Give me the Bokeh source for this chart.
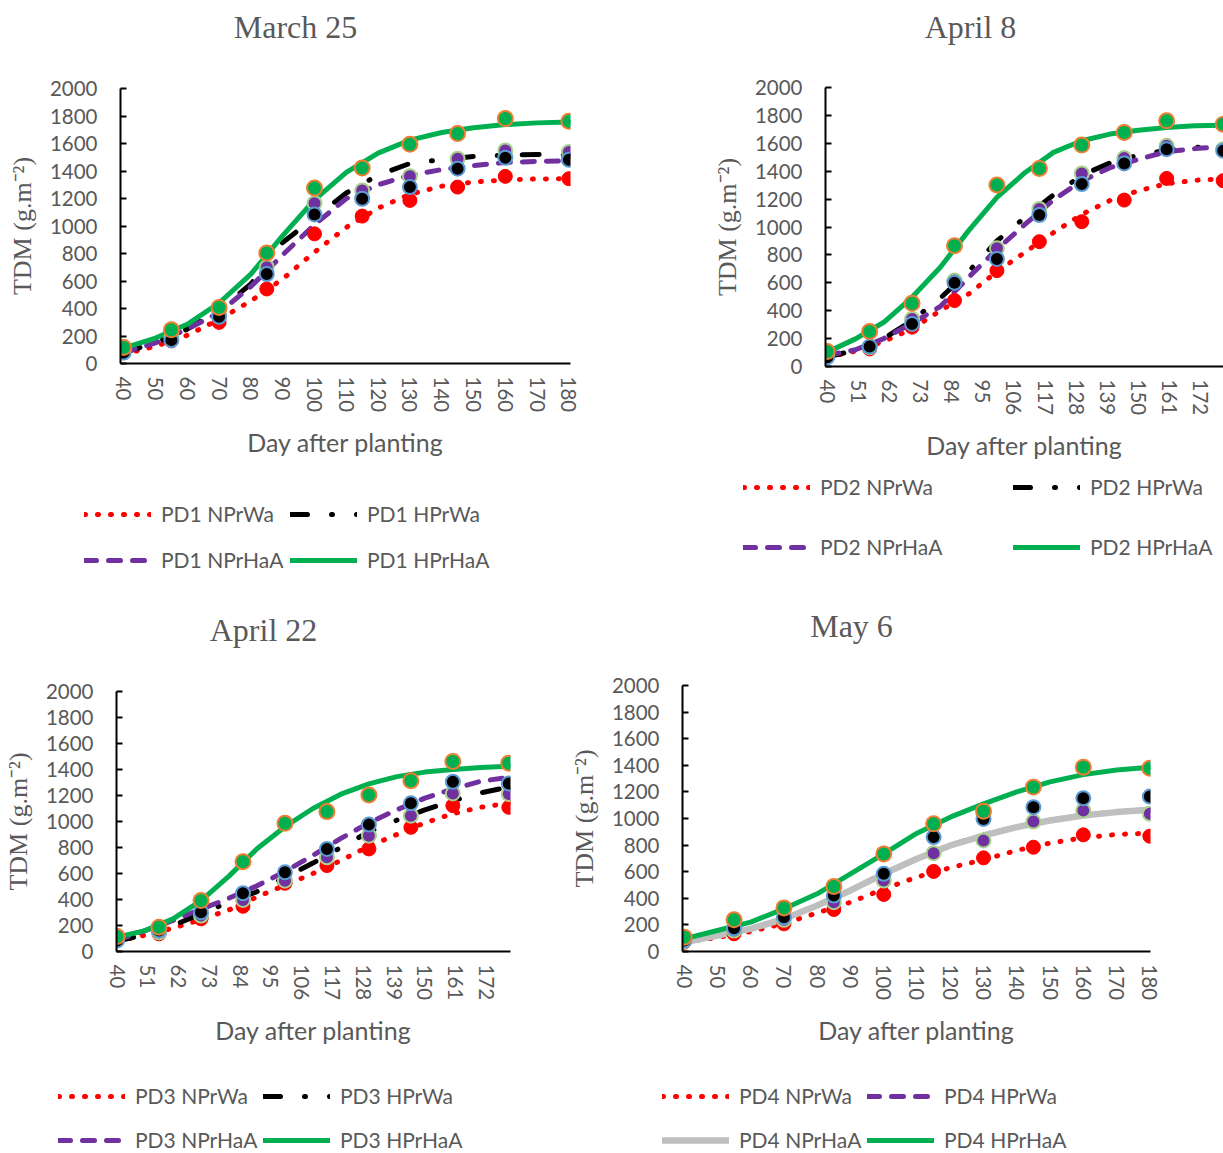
from bokeh.plotting import figure
from bokeh.models import Range1d, FixedTicker, Legend, LegendItem, Label
from bokeh.layouts import row, column
from bokeh.embed import file_html
from bokeh.resources import INLINE

# ---------------- data ----------------
days = [40, 55, 70, 85, 100, 115, 130, 145, 160, 180]
fit_days = [40, 50, 60, 70, 80, 90, 100, 110, 120, 130, 140, 150, 160, 170, 180]
y_ticks = [0, 200, 400, 600, 800, 1000, 1200, 1400, 1600, 1800, 2000]
x_ticks_10 = [40, 50, 60, 70, 80, 90, 100, 110, 120, 130, 140, 150, 160, 170, 180]
x_ticks_11 = [40, 51, 62, 73, 84, 95, 106, 117, 128, 139, 150, 161, 172]
titles = ["March 25", "April 8", "April 22", "May 6"]

# PD1 (March 25)
pd1_obs_nprwa = [80, 165, 299, 542, 943, 1072, 1186, 1283, 1361, 1344]
pd1_obs_hprwa = [80, 170, 340, 651, 1084, 1198, 1283, 1417, 1497, 1482]
pd1_obs_nprhaa = [92, 190, 372, 700, 1166, 1259, 1361, 1490, 1550, 1538]
pd1_obs_hprhaa = [117, 245, 408, 804, 1276, 1422, 1594, 1672, 1781, 1762]
pd1_fit_nprwa = [68, 125, 205, 320, 455, 615, 810, 990, 1130, 1230, 1290, 1320, 1335, 1342, 1344]
pd1_fit_hprwa = [80, 150, 250, 390, 578, 880, 1060, 1240, 1370, 1455, 1483, 1505, 1515, 1520, 1521]
pd1_fit_nprhaa = [80, 150, 250, 370, 560, 790, 1010, 1200, 1300, 1370, 1410, 1440, 1462, 1470, 1473]
pd1_fit_hprhaa = [112, 185, 285, 440, 650, 930, 1190, 1390, 1530, 1625, 1680, 1715, 1738, 1750, 1757]

# PD2 (April 8)
pd2_obs_nprwa = [67, 126, 282, 473, 687, 895, 1038, 1193, 1348, 1332]
pd2_obs_hprwa = [67, 143, 305, 601, 771, 1086, 1308, 1456, 1558, 1547]
pd2_obs_nprhaa = [79, 138, 341, 616, 847, 1129, 1384, 1494, 1582, 1558]
pd2_obs_hprhaa = [107, 251, 453, 866, 1301, 1420, 1587, 1678, 1761, 1737]
pd2_fit_nprwa = [65, 110, 180, 270, 400, 520, 680, 820, 960, 1090, 1190, 1260, 1310, 1335, 1345]
pd2_fit_hprwa = [70, 115, 200, 330, 490, 680, 900, 1070, 1230, 1370, 1460, 1515, 1550, 1570, 1580]
pd2_fit_nprhaa = [80, 120, 200, 310, 430, 640, 840, 1020, 1195, 1330, 1425, 1485, 1540, 1562, 1575]
pd2_fit_hprhaa = [103, 198, 317, 496, 711, 974, 1212, 1391, 1535, 1618, 1666, 1694, 1714, 1725, 1730]

# PD3 (April 22)
pd3_obs_nprwa = [97, 136, 251, 348, 525, 661, 789, 955, 1122, 1109]
pd3_obs_hprwa = [85, 161, 302, 448, 609, 789, 976, 1140, 1306, 1293]
pd3_obs_nprhaa = [97, 148, 277, 397, 545, 725, 891, 1045, 1216, 1211]
pd3_obs_hprhaa = [115, 187, 392, 691, 986, 1076, 1204, 1314, 1462, 1449]
pd3_fit_nprwa = [80, 125, 180, 245, 320, 420, 510, 600, 700, 810, 900, 990, 1060, 1110, 1140]
pd3_fit_hprwa = [80, 130, 200, 290, 380, 460, 570, 680, 800, 920, 1010, 1090, 1160, 1220, 1265]
pd3_fit_nprhaa = [85, 160, 240, 325, 410, 505, 615, 740, 870, 990, 1090, 1180, 1250, 1310, 1340]
pd3_fit_hprhaa = [110, 161, 251, 392, 580, 790, 960, 1100, 1210, 1290, 1345, 1380, 1400, 1415, 1425]

# PD4 (May 6)
pd4_obs_nprwa = [70, 133, 208, 316, 429, 602, 704, 784, 877, 867]
pd4_obs_hprwa = [83, 175, 258, 421, 584, 860, 997, 1085, 1153, 1165]
pd4_obs_nprhaa = [78, 158, 238, 371, 534, 739, 835, 977, 1060, 1035]
pd4_obs_hprhaa = [108, 238, 328, 489, 734, 960, 1055, 1236, 1386, 1378]
pd4_fit_nprwa = [70, 105, 150, 210, 290, 370, 470, 560, 630, 690, 760, 815, 855, 880, 890]
pd4_fit_hprwa = [72, 122, 172, 247, 348, 461, 586, 699, 799, 874, 937, 987, 1025, 1050, 1067]
pd4_fit_nprhaa = [70, 120, 170, 245, 346, 459, 584, 697, 797, 872, 935, 985, 1023, 1048, 1065]
pd4_fit_hprhaa = [95, 158, 221, 321, 434, 584, 734, 890, 1010, 1110, 1200, 1275, 1330, 1365, 1385]

# ---------------- styles ----------------
TXT = "#595959"
SANS = "Lato"
SERIF = "Liberation Serif"

line_styles = {
    "red": dict(line_color="#FF0000", line_width=5, line_dash="1 12", line_cap="round"),
    "black": dict(line_color="#000000", line_width=5, line_dash="17 24 1 24", line_cap="round"),
    "purple": dict(line_color="#7030A0", line_width=5, line_dash="12 12", line_cap="round"),
    "green": dict(line_color="#00B050", line_width=5, line_cap="round"),
    "gray": dict(line_color="#BFBFBF", line_width=6.5, line_cap="round"),
}
marker_styles = {
    "red": dict(fill_color="#FF0000", line_color="#FF0000", line_width=1, size=14),
    "purple": dict(fill_color="#7030A0", line_color="#A9D18E", line_width=2, size=14),
    "black": dict(fill_color="#000000", line_color="#5B9BD5", line_width=2, size=14),
    "green": dict(fill_color="#00B050", line_color="#ED7D31", line_width=2, size=15),
}


def no_align(f):
    if "frame_align" in f.properties():
        f.frame_align = False
    return f


def blank_fig(w, h):
    # x range far from the data so that legend-carrier lines stay off-canvas
    f = figure(width=w, height=h, x_range=Range1d(0, 1), y_range=Range1d(0, 1),
               x_axis_location=None, y_axis_location=None, min_border=0,
               output_backend="svg", toolbar_location=None)
    f.outline_line_color = None
    f.grid.visible = False
    return no_align(f)


def make_chart(spec):
    p = figure(width=spec["w"], height=spec["h"],
               x_range=Range1d(*spec["xr"]), y_range=Range1d(0, 2000),
               output_backend="svg", toolbar_location=None,
               min_border_left=spec["b"][0], min_border_right=spec["b"][1],
               min_border_top=spec["b"][2], min_border_bottom=spec["b"][3])
    no_align(p)
    p.outline_line_color = None
    p.grid.visible = False

    p.xaxis.ticker = FixedTicker(ticks=spec["xt"])
    p.xaxis.major_label_orientation = "vertical"
    p.xaxis.major_label_standoff = 13
    p.xaxis.major_tick_in = 0
    p.xaxis.major_tick_out = 0
    p.xaxis.minor_tick_line_color = None
    p.xaxis.axis_label = "Day after planting"
    p.xaxis.axis_label_standoff = 12
    p.xaxis.axis_label_text_font = SANS
    p.xaxis.axis_label_text_font_size = "25px"
    p.xaxis.axis_label_text_font_style = "normal"
    p.xaxis.axis_label_text_color = TXT

    p.yaxis.ticker = FixedTicker(ticks=y_ticks)
    p.yaxis.major_label_standoff = 23
    p.yaxis.major_tick_in = 6
    p.yaxis.major_tick_out = 0
    p.yaxis.major_tick_line_width = 2
    p.yaxis.minor_tick_line_color = None
    p.yaxis.axis_label = "TDM (g.m\u207b\u00b2)"
    p.yaxis.axis_label_standoff = 10
    p.yaxis.axis_label_text_font = SERIF
    p.yaxis.axis_label_text_font_size = "26px"
    p.yaxis.axis_label_text_font_style = "normal"
    p.yaxis.axis_label_text_color = TXT

    for ax in (p.xaxis, p.yaxis):
        ax.axis_line_color = "black"
        ax.axis_line_width = 2
        ax.major_label_text_font = SANS
        ax.major_label_text_font_size = "20.5px"
        ax.major_label_text_color = TXT

    for key, vals in spec["fits"]:
        p.line(fit_days, vals, **line_styles[key])
    for key, vals in spec["obs"]:
        p.scatter(days, vals, marker="circle", **marker_styles[key])
    return p


def make_header(spec):
    f = blank_fig(spec["w"], spec["hh"])
    f.add_layout(Label(x=spec["t_xy"][0], y=spec["t_xy"][1], x_units="screen",
                       y_units="screen", text=spec["title"], text_align="center",
                       text_baseline="alphabetic", text_font=SERIF,
                       text_font_size="32px", text_color=TXT))
    return f


def make_legend(spec):
    f = blank_fig(spec["w"], spec["lh"])
    fits = dict(spec["fits"])
    for vx, names in spec["leg_cols"]:
        items = []
        for key, lab in names:
            # same fitted series, outside this strip's range: only its legend swatch shows
            r = f.line(fit_days, fits[key], **line_styles[key])
            items.append(LegendItem(label=lab, renderers=[r]))
        f.add_layout(Legend(items=items, location=(vx, spec["leg_vy"]),
                            orientation="vertical", spacing=spec["leg_sp"],
                            padding=0, margin=0, glyph_width=67, glyph_height=20,
                            label_height=20, label_standoff=10,
                            label_text_font=SANS, label_text_font_size="21px",
                            label_text_color=TXT, border_line_color=None,
                            background_fill_alpha=0))
    return f


panels = [
    dict(title=titles[0], w=610, hh=60, h=410, lh=120, t_xy=(295, 33.7),
         xr=(39.0, 180.5), xt=x_ticks_10, b=(120, 40, 28, 107),
         fits=[("red", pd1_fit_nprwa), ("black", pd1_fit_hprwa),
               ("purple", pd1_fit_nprhaa), ("green", pd1_fit_hprhaa)],
         obs=[("red", pd1_obs_nprwa), ("purple", pd1_obs_nprhaa),
              ("black", pd1_obs_hprwa), ("green", pd1_obs_hprhaa)],
         leg_cols=[(84, [("red", "PD1 NPrWa"), ("purple", "PD1 NPrHaA")]),
                   (290, [("black", "PD1 HPrWa"), ("green", "PD1 HPrHaA")])],
         leg_vy=18, leg_sp=21),
    dict(title=titles[1], w=613, hh=60, h=410, lh=120, t_xy=(360, 34),
         xr=(39.4, 180.1), xt=x_ticks_11, b=(215, 0, 27, 104),
         fits=[("red", pd2_fit_nprwa), ("black", pd2_fit_hprwa),
               ("purple", pd2_fit_nprhaa), ("green", pd2_fit_hprhaa)],
         obs=[("red", pd2_obs_nprwa), ("purple", pd2_obs_nprhaa),
              ("black", pd2_obs_hprwa), ("green", pd2_obs_hprhaa)],
         leg_cols=[(133, [("red", "PD2 NPrWa"), ("purple", "PD2 NPrHaA")]),
                   (403, [("black", "PD2 HPrWa"), ("green", "PD2 HPrHaA")])],
         leg_vy=31, leg_sp=35),
    dict(title=titles[2], w=560, hh=70, h=400, lh=93, t_xy=(263, 30.3),
         xr=(39.8, 180.6), xt=x_ticks_11, b=(112, 50, 31, 109),
         fits=[("red", pd3_fit_nprwa), ("black", pd3_fit_hprwa),
               ("purple", pd3_fit_nprhaa), ("green", pd3_fit_hprhaa)],
         obs=[("red", pd3_obs_nprwa), ("purple", pd3_obs_nprhaa),
              ("black", pd3_obs_hprwa), ("green", pd3_obs_hprhaa)],
         leg_cols=[(58, [("red", "PD3 NPrWa"), ("purple", "PD3 NPrHaA")]),
                   (263, [("black", "PD3 HPrWa"), ("green", "PD3 HPrHaA")])],
         leg_vy=1, leg_sp=19),
    dict(title=titles[3], w=663, hh=70, h=400, lh=93, t_xy=(291, 34.3),
         xr=(39.5, 180.2), xt=x_ticks_10, b=(122, 73, 25, 109),
         fits=[("red", pd4_fit_nprwa), ("purple", pd4_fit_hprwa),
               ("gray", pd4_fit_nprhaa), ("green", pd4_fit_hprhaa)],
         obs=[("red", pd4_obs_nprwa), ("purple", pd4_obs_nprhaa),
              ("black", pd4_obs_hprwa), ("green", pd4_obs_hprhaa)],
         leg_cols=[(102, [("red", "PD4 NPrWa"), ("gray", "PD4 NPrHaA")]),
                   (307, [("purple", "PD4 HPrWa"), ("green", "PD4 HPrHaA")])],
         leg_vy=1, leg_sp=19),
]

cols = [column(make_header(s), make_chart(s), make_legend(s)) for s in panels]
layout = column(row(cols[0], cols[1]), row(cols[2], cols[3]))

open("out.html", "w").write(file_html(layout, INLINE))
